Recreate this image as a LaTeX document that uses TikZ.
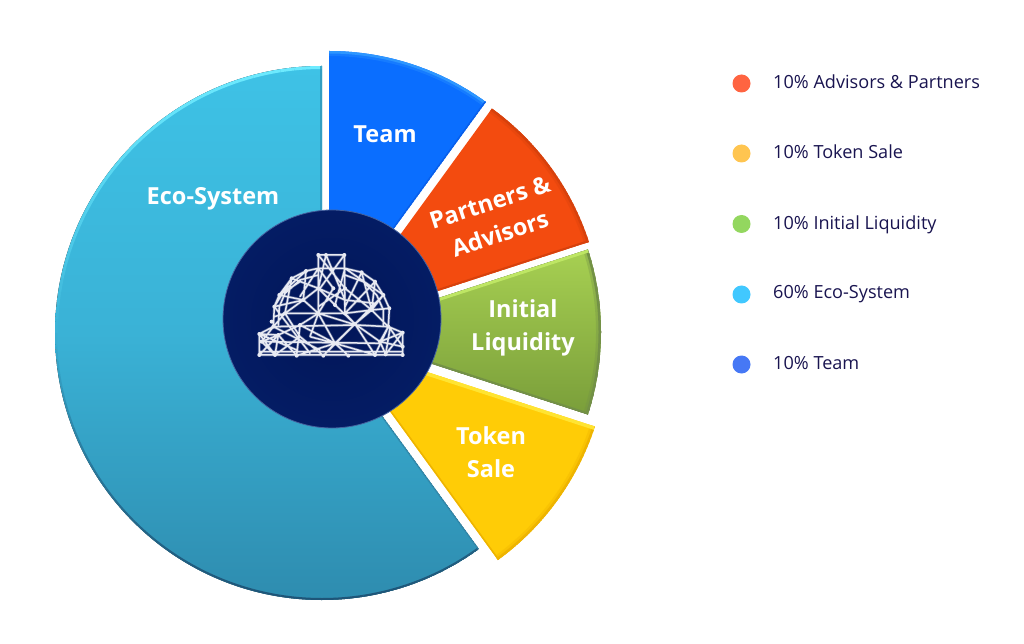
\documentclass[tikz,border=0pt]{standalone}
\usepackage{fontspec}
\setmainfont{Open Sans}
\definecolor{tmA}{RGB}{10,110,255}
\definecolor{tmL}{RGB}{45,150,255}
\definecolor{tmD}{RGB}{8,95,235}
\definecolor{paA}{RGB}{243,75,15}
\definecolor{paL}{RGB}{250,90,30}
\definecolor{paD}{RGB}{215,65,12}
\definecolor{liT}{RGB}{167,208,82}
\definecolor{liB}{RGB}{122,158,58}
\definecolor{liL}{RGB}{190,230,100}
\definecolor{liD}{RGB}{115,145,70}
\definecolor{toA}{RGB}{255,204,6}
\definecolor{toL}{RGB}{255,228,50}
\definecolor{toD}{RGB}{238,180,0}
\definecolor{ecT}{RGB}{62,194,230}
\definecolor{ecM}{RGB}{58,178,214}
\definecolor{ecB}{RGB}{46,140,175}
\definecolor{ecL}{RGB}{110,235,255}
\definecolor{ecD}{RGB}{30,85,120}
\definecolor{ecE}{RGB}{48,150,185}
\definecolor{ecF}{RGB}{48,130,165}
\definecolor{hubI}{RGB}{2,22,88}
\definecolor{hubO}{RGB}{4,28,100}
\definecolor{hubR}{RGB}{70,100,160}
\definecolor{mesh}{RGB}{232,234,242}
\definecolor{legendtext}{RGB}{25,20,80}
\definecolor{dotA}{RGB}{255,100,65}
\definecolor{dotB}{RGB}{255,197,80}
\definecolor{dotC}{RGB}{147,215,95}
\definecolor{dotD}{RGB}{65,200,255}
\definecolor{dotE}{RGB}{70,120,245}
% cx cy a1 a2 fillstyle ringstyle
\newcommand\piece[6]{%
  \begin{scope}
    \clip (#1,#2) -- ++(#3:267) arc (#3:#4:267) -- cycle;
    \fill[#5] (#1,#2) -- ++(#3:267) arc (#3:#4:267) -- cycle;
    \fill[even odd rule, opacity=.35, #6] (#1,#2) circle[radius=268] (#1,#2) circle[radius=262];
    \fill[even odd rule, #6] (#1,#2) circle[radius=268] (#1,#2) circle[radius=264.5];
  \end{scope}}
\tikzset{
  lab/.style={text=white, align=center, inner sep=0pt, font=\bfseries\fontsize{23.5}{33}\selectfont},
  legtxt/.style={text=legendtext, anchor=base west, inner sep=0pt, font=\fontsize{18.1}{22}\selectfont},
  legdot/.style={circle, minimum size=18pt, inner sep=0pt}
}
\begin{document}
\begin{tikzpicture}[x=1pt,y=1pt]
\useasboundingbox (0,0) rectangle (1024,643);
\fill[white] (0,0) rectangle (1024,643);

% Eco-System
\begin{scope}
  \clip (322,310) -- ++(90:267) arc (90:306:267) -- cycle;
  \fill[top color=ecT, bottom color=ecB, middle color=ecM] (322,310) -- ++(90:267) arc (90:306:267) -- cycle;
  \foreach \a in {90,93,...,303}{
    \pgfmathsetmacro\sv{sin(\a+1.5)}
    \pgfmathsetmacro\up{max(\sv,0)}
    \pgfmathsetmacro\dn{max(-\sv,0)}
    \draw[ecL, opacity=\up, line width=3pt] ([shift={(\a:265.5)}]322,310) arc (\a:\a+3:265.5);
    \draw[ecD, opacity=\dn, line width=2pt] ([shift={(\a:266)}]322,310) arc (\a:\a+3:266);
  }
  \draw[ecE, line width=5pt, opacity=.8] (322,310) -- ++(90:267);
  \draw[ecF, line width=2.5pt, opacity=.7] (322,310) -- ++(306:267);
\end{scope}
% Team
\piece{329}{325}{54}{90}{tmA}{tmL}
\begin{scope}
  \clip (329,325) -- ++(54:267) arc (54:90:267) -- cycle;
  \draw[tmD, line width=3pt] (329,325) -- ++(54:267);
\end{scope}
% Partners
\piece{335}{318.5}{18}{54}{paA}{paD}
\begin{scope}
  \clip (335,318.5) -- ++(18:267) arc (18:54:267) -- cycle;
  \draw[paD, line width=4pt] (335,318.5) -- ++(18:267);
\end{scope}
% Liquidity
\piece{334}{311}{-18}{18}{top color=liT, bottom color=liB}{liD}
\begin{scope}
  \clip (334,311) -- ++(-18:267) arc (-18:18:267) -- cycle;
  \draw[liL, line width=6pt] (334,311) -- ++(18:267);
  \draw[liD, line width=4pt] (334,311) -- ++(-18:267);
\end{scope}
% Token
\piece{341}{299}{-54}{-18}{toA}{toD}
\begin{scope}
  \clip (341,299) -- ++(-54:267) arc (-54:-18:267) -- cycle;
  \draw[toL, line width=7pt] (341,299) -- ++(-18:267);
  \draw[toD, line width=3pt] (341,299) -- ++(-54:267);
\end{scope}

% Hub
\node[circle, minimum size=218pt, inner sep=0pt, draw=hubR, line width=.8pt,
      inner color=hubI, outer color=hubO] (hub) at (332,324) {};

% Helmet mesh (coordinates read from a 3x crop with origin at 220,210)
\begin{scope}[shift={(220pt,433pt)}, x=.3333pt, y=-.3333pt]
\def\meshpath{
 (295,135)--(373,135)--(375,310)--(295,310)--cycle
 (160,350)--(163,290)--(178,255)--(215,205)--(258,183)--(295,175)
 (375,175)--(425,187)--(465,215)--(490,255)--(508,295)--(505,350)
 (175,345)--(178,290)--(195,250)--(240,210)--(295,195)
 (375,195)--(430,215)--(470,255)--(490,300)--(490,345)
 (118,372)--(160,350)--(408,345)--(505,350)--(548,368)--(548,435)--(118,435)--cycle
 (295,135)--(375,235) (318,135)--(375,270) (373,135)--(300,235) (318,135)--(295,235)
 (295,175)--(375,175) (295,235)--(375,270) (375,235)--(295,290) (295,235)--(345,285)
 (295,175)--(340,235) (375,175)--(345,285) (340,235)--(295,310)
 (215,205)--(295,235) (258,183)--(250,270) (178,255)--(250,270) (178,255)--(258,183)
 (215,205)--(195,310) (163,290)--(215,205) (163,290)--(250,270) (250,270)--(295,235)
 (250,270)--(195,310) (195,310)--(295,310) (163,320)--(195,310) (250,270)--(295,310)
 (178,255)--(240,215) (295,175)--(240,260) (195,310)--(240,380) (195,310)--(160,350)
 (295,310)--(240,345) (295,310)--(345,400) (295,310)--(270,380) (163,290)--(205,345)
 (375,235)--(455,300) (375,175)--(490,255) (425,187)--(375,290) (465,215)--(375,310)
 (425,187)--(455,300) (465,215)--(455,300) (490,255)--(405,342) (508,295)--(455,300)
 (375,310)--(455,300) (375,270)--(465,280) (345,285)--(405,342) (295,310)--(408,345)
 (455,300)--(405,342) (455,300)--(505,350) (375,310)--(405,342) (490,255)--(455,300)
 (405,342)--(345,400) (405,342)--(465,435) (405,342)--(310,437) (405,342)--(480,395)
 (505,350)--(480,395) (505,350)--(465,435) (548,368)--(480,395) (510,355)--(548,410)
 (510,355)--(497,433) (480,395)--(548,410) (480,395)--(497,433) (548,368)--(497,433)
 (125,395)--(480,400) (345,400)--(230,437) (345,400)--(310,437) (345,400)--(385,437)
 (345,400)--(465,435) (345,400)--(240,345) (345,400)--(270,380) (205,345)--(270,430)
 (175,375)--(118,435) (175,375)--(165,435) (175,375)--(230,437) (175,375)--(118,372)
 (175,375)--(240,345) (125,395)--(165,435) (125,395)--(160,350) (125,395)--(175,375)
 (118,372)--(165,435) (240,380)--(165,435) (240,380)--(310,437) (240,345)--(230,437)
 (118,372)--(230,420) (160,350)--(300,420) (118,425)--(548,425)
}
\draw[mesh, opacity=.3, line width=2.8pt] \meshpath;
\draw[mesh, line width=1.5pt, line join=round, line cap=round] \meshpath;
\foreach \p in {(295,135),(318,135),(373,135),(375,235),(375,310),(295,310),(295,235),(340,235),(345,285),
  (163,290),(178,255),(215,205),(258,183),(425,187),(465,215),(490,255),(508,295),(505,350),(160,350),(155,335),
  (118,372),(125,395),(118,435),(165,435),(230,437),(310,437),(385,437),(465,435),(497,433),(548,435),(548,368),(548,410),
  (195,310),(250,270),(455,300),(405,342),(345,400),(480,395),(175,375),(240,345)}
  \fill[mesh] \p circle[radius=6];
\end{scope}

% Labels
\node[lab] (team) at (385,509) {Team};
\node[lab] (eco) at (213,444) {Eco-System};
\node[lab, rotate=18] (partners) at (495,425) {Partners \&\\Advisors};
\node[lab] (liq) at (523,315.5) {Initial\\Liquidity};
\node[lab] (tok) at (491,191) {Token\\Sale};

% Legend
\node[legdot, fill=dotA] (d1) at (741.5,559.5) {};
\node[legdot, fill=dotB] (d2) at (741.5,489.5) {};
\node[legdot, fill=dotC] (d3) at (741.5,419) {};
\node[legdot, fill=dotD] (d4) at (741.5,348.5) {};
\node[legdot, fill=dotE] (d5) at (741.5,278.5) {};
\node[legtxt] (t1) at (773,554.7) {10\% Advisors \& Partners};
\node[legtxt] (t2) at (773,484.3) {10\% Token Sale};
\node[legtxt] (t3) at (773,413.7) {10\% Initial Liquidity};
\node[legtxt] (t4) at (773,344) {60\% Eco-System};
\node[legtxt] (t5) at (773,273.7) {10\% Team};
\end{tikzpicture}
\end{document}
